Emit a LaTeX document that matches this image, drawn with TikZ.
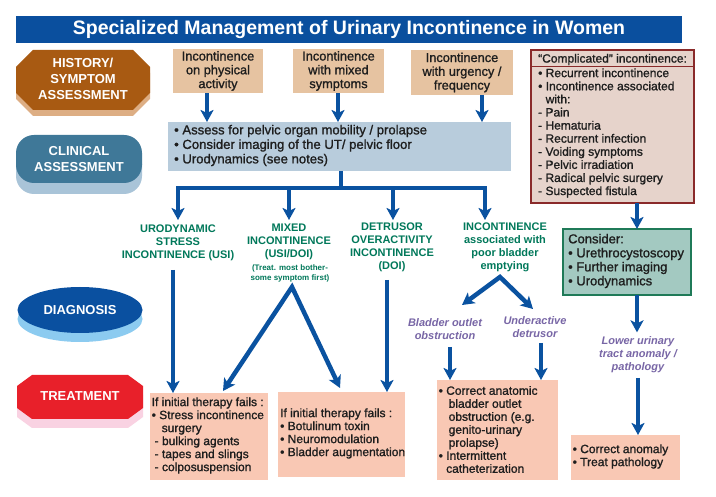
\documentclass[tikz,border=0pt]{standalone}
\usepackage{fontspec}
\setmainfont{Liberation Sans}
\newfontfamily\bodyfam[BoldFont={Liberation Sans}, BoldFeatures={FakeBold=1.2}]{Liberation Sans}
\newcommand\bodyf{\bodyfam\bfseries}
\usetikzlibrary{shapes.geometric,arrows.meta,calc}
\definecolor{titleblue}{HTML}{0A4F9E}
\definecolor{arrblue}{HTML}{0A52A0}
\definecolor{histbrown}{HTML}{A85A12}
\definecolor{histshadow}{HTML}{DDAE84}
\definecolor{clinblue}{HTML}{3F7898}
\definecolor{clinshadow}{HTML}{A9C4D8}
\definecolor{diagblue}{HTML}{0A50A0}
\definecolor{diagshadow}{HTML}{8CCBF0}
\definecolor{treatred}{HTML}{E8202A}
\definecolor{treatshadow}{HTML}{F9D2E2}
\definecolor{tanbox}{HTML}{E6C3A1}
\definecolor{clinbox}{HTML}{B8CCDC}
\definecolor{greentext}{HTML}{00785A}
\definecolor{purpletext}{HTML}{7866A6}
\definecolor{salmon}{HTML}{F9C8B4}
\definecolor{compfill}{HTML}{E6D3CB}
\definecolor{compline}{HTML}{8A2A2A}
\definecolor{consfill}{HTML}{A3C9C1}
\definecolor{consline}{HTML}{1F7A58}
\definecolor{textc}{HTML}{1E1E1E}
\newcommand\octpath[6]{(#1+#5,#2) -- (#3-#5,#2) -- (#3,#2+#6) -- (#3,#4-#6) -- (#3-#5,#4) -- (#1+#5,#4) -- (#1,#4-#6) -- (#1,#2+#6) -- cycle}
\tikzset{
  tip/.tip={Stealth[length=12pt,width=13pt,inset=3pt]},
  arr/.style={draw=arrblue, line width=4.5pt, line join=miter, -tip},
  arrboth/.style={draw=arrblue, line width=4.5pt, line join=miter, tip-tip},
  bodytext/.style={font={\bodyf\fontsize{12}{13}\selectfont}, text=textc, align=left, inner sep=0pt, anchor=west},
  tantext/.style={font={\bodyf\fontsize{12.8}{13.8}\selectfont}, text=textc, align=center},
  leftlbl/.style={font={\bfseries\fontsize{13}{16}\selectfont}, text=white, align=center},
  greenlbl/.style={font={\bfseries\fontsize{11}{13}\selectfont}, text=greentext, align=center},
  purplelbl/.style={font={\bfseries\itshape\fontsize{11}{13}\selectfont}, text=purpletext, align=center},
  panel/.style={inner sep=0pt, outer sep=0pt},
}
\begin{document}
\begin{tikzpicture}[x=1pt,y=-1pt]
\useasboundingbox[fill=white] (0,0) rectangle (716,497);
% title
\node[fill=titleblue, minimum width=666pt, minimum height=27pt, inner sep=0pt,
  font={\bfseries\fontsize{19.5}{22}\selectfont}, text=white] (title) at (349,29.5)
  {Specialized Management of Urinary Incontinence in Women};
% left stage labels
\fill[histshadow] \octpath{16}{56}{150}{116}{17}{17};
\fill[histbrown] \octpath{16}{50}{150}{110}{17}{17};
\node[leftlbl] (hist) at (83,79) {HISTORY/\\SYMPTOM\\ASSESSMENT};
\fill[clinshadow, rounded corners=18pt] (16,146) rectangle (142,194);
\node[fill=clinblue, rounded corners=18pt, minimum width=126pt, minimum height=48pt, inner sep=0pt, leftlbl] (clinA) at (79,159) {CLINICAL\\ASSESSMENT};
\node[ellipse, fill=diagshadow, minimum width=125pt, minimum height=46pt, inner sep=0pt] (diagsh) at (80,319) {};
\node[ellipse, fill=diagblue, minimum width=125pt, minimum height=46pt, inner sep=0pt, leftlbl] (diag) at (80,310) {DIAGNOSIS};
\fill[treatshadow] \octpath{17}{384}{143}{428}{15}{11};
\fill[treatred] \octpath{17}{375}{143}{419}{15}{11};
\node[leftlbl] (treat) at (80,396) {TREATMENT};
% top boxes
\node[fill=tanbox, minimum width=90pt, minimum height=44pt, inner sep=0pt, tantext] (tb1) at (218,71) {Incontinence\\on physical\\activity};
\node[fill=tanbox, minimum width=91pt, minimum height=44pt, inner sep=0pt, tantext] (tb2) at (338.5,71) {Incontinence\\with mixed\\symptoms};
\node[fill=tanbox, minimum width=102pt, minimum height=45pt, inner sep=0pt, tantext] (tb3) at (462,72.5) {Incontinence\\with urgency /\\frequency};
% clinical box
\node[panel, fill=clinbox, minimum width=343pt, minimum height=49pt] (clin) at (339.5,146.5) {};
\node[bodytext, font={\bodyf\fontsize{13.1}{14.5}\selectfont}] (clintext) at (174,145.5)
  {• Assess for pelvic organ mobility / prolapse\\• Consider imaging of the UT/ pelvic floor\\• Urodynamics (see notes)};
% diagnosis labels
\node[greenlbl] (usi) at (178,243) {URODYNAMIC\\STRESS\\INCONTINENCE (USI)};
\node[greenlbl] (mix) at (289,242) {MIXED\\INCONTINENCE\\(USI/DOI)};
\node[greenlbl, font={\bfseries\fontsize{8}{10}\selectfont}] (mixnote) at (290,273) {(Treat. most bother-\\some symptom first)};
\node[greenlbl] (doi) at (392,247) {DETRUSOR\\OVERACTIVITY\\INCONTINENCE\\(DOI)};
\node[greenlbl] (pbe) at (505,247) {INCONTINENCE\\associated with\\poor bladder\\emptying};
\node[purplelbl] (bo) at (445,329.5) {Bladder outlet\\obstruction};
\node[purplelbl] (ud) at (535,327.5) {Underactive\\detrusor};
\node[purplelbl] (lut) at (638,355) {Lower urinary\\tract anomaly /\\pathology};
% treatment boxes
\node[panel, fill=salmon, minimum width=118pt, minimum height=87pt] (boxA) at (209,436.5) {};
\node[bodytext] (boxAtext) at (151.5,435.5)
  {If initial therapy fails :\\• Stress incontinence\\\hspace*{10pt}surgery\\\hspace*{3pt}- bulking agents\\\hspace*{3pt}- tapes and slings\\\hspace*{3pt}- colposuspension};
\node[panel, fill=salmon, minimum width=127pt, minimum height=85pt] (boxB) at (341.5,434.5) {};
\node[bodytext] (boxBtext) at (280,433.5)
  {If initial therapy fails :\\• Botulinum toxin\\• Neuromodulation\\• Bladder augmentation};
\node[panel, fill=salmon, minimum width=121pt, minimum height=100pt] (boxC) at (497.5,430) {};
\node[bodytext] (boxCtext) at (438.5,429.5)
  {• Correct anatomic\\\hspace*{10pt}bladder outlet\\\hspace*{10pt}obstruction (e.g.\\\hspace*{10pt}genito-urinary\\\hspace*{10pt}prolapse)\\• Intermittent\\\hspace*{7.5pt}catheterization};
\node[panel, fill=salmon, minimum width=109pt, minimum height=45pt] (boxD) at (625.5,457.5) {};
\node[bodytext] (boxDtext) at (572.5,456.5) {• Correct anomaly\\• Treat pathology};
% right column
\node[panel, draw=compline, line width=1.2pt, fill=compfill, minimum width=163pt, minimum height=153pt] (comp) at (612.5,126.5) {};
\draw[compline, line width=1pt] (531,67) -- (694,67);
\node[bodytext] (comphead) at (538,59.5) {“Complicated” incontinence:};
\node[bodytext, font={\bodyf\fontsize{12}{13.1}\selectfont}] (complist) at (538,133)
  {• Recurrent incontinence\\• Incontinence associated\\\hspace*{7.5pt}with:\\- Pain\\- Hematuria\\- Recurrent infection\\- Voiding symptoms\\- Pelvic irradiation\\- Radical pelvic surgery\\- Suspected fistula};
\node[panel, draw=consline, line width=1.2pt, fill=consfill, minimum width=128pt, minimum height=66pt] (cons) at (627,262) {};
\node[bodytext, font={\bodyf\fontsize{13}{14}\selectfont}] (constext) at (568,261)
  {Consider:\\• Urethrocystoscopy\\• Further imaging\\• Urodynamics};
% named points
\coordinate (c1) at (207,0);
\coordinate (c2) at (338,0);
\coordinate (c3) at (482,0);
\coordinate (bj) at (341,188);
\coordinate (t1) at (178,220);
\coordinate (t2) at (289,220);
\coordinate (t3) at (393,220);
\coordinate (t4) at (485,220);
\coordinate (s1) at (173,270);
\coordinate (mapex) at (292,287);
\coordinate (mleft) at (223,391);
\coordinate (mright) at (340,388);
\coordinate (s3) at (387,280);
\coordinate (papex) at (500,277);
\coordinate (pleft) at (462,305);
\coordinate (pright) at (533,309);
\coordinate (s4) at (450,347);
\coordinate (s5) at (541,343);
\coordinate (r1) at (637,0);
\coordinate (s6) at (638,378);
% connectors
\draw[arr] (tb1.south -| c1) -- (clin.north -| c1);
\draw[arr] (tb2.south -| c2) -- (clin.north -| c2);
\draw[arr] (tb3.south -| c3) -- (clin.north -| c3);
\draw[arr] (clin.south -| bj) -- (bj) -| (t1);
\draw[arr] (bj) -| (t4);
\draw[arr] (t2 |- bj) -- (t2);
\draw[arr] (t3 |- bj) -- (t3);
\draw[arr] (s1) -- (boxA.north -| s1);
\draw[arrboth] (mleft) -- (mapex) -- (mright);
\draw[arr] (s3) -- (boxB.north -| s3);
\draw[arrboth] (pleft) -- (papex) -- (pright);
\draw[arr] (s4) -- (boxC.north -| s4);
\draw[arr] (s5) -- (boxC.north -| s5);
\draw[arr] (comp.south -| r1) -- (cons.north -| r1);
\draw[arr] (cons.south -| r1) -- ($(lut.north -| r1)+(0,-1)$);
\draw[arr] (s6) -- (boxD.north -| s6);
\end{tikzpicture}
\end{document}
